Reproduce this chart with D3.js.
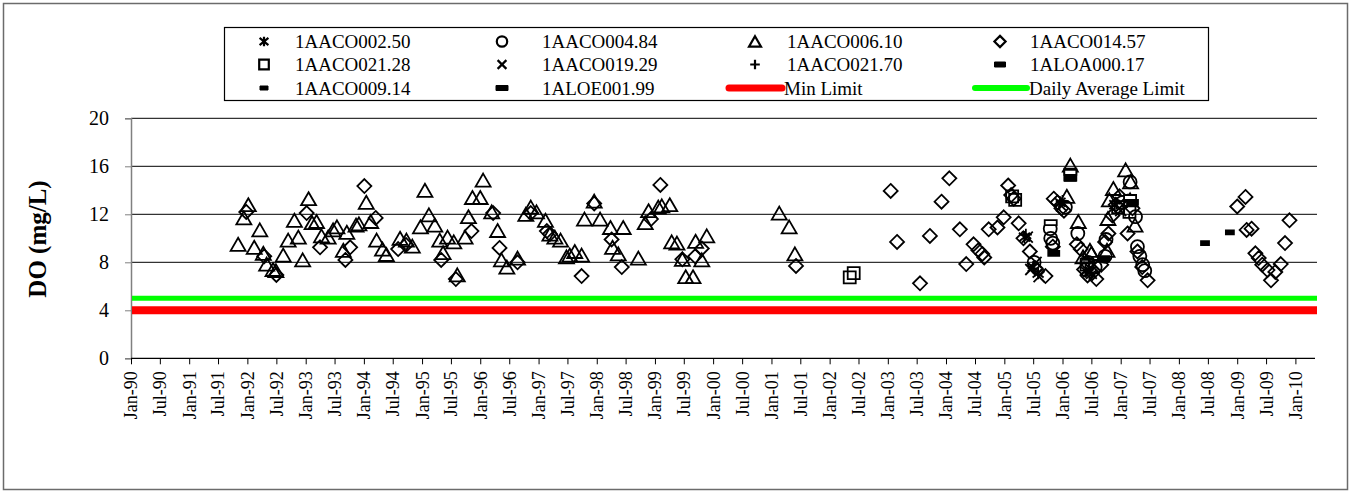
<!DOCTYPE html>
<html><head><meta charset="utf-8">
<script src="https://cdn.jsdelivr.net/npm/d3@7"></script>
<style>
html,body{margin:0;padding:0;background:#fff;}
svg{display:block;font-family:"Liberation Serif","Times New Roman",serif;}
</style></head>
<body>
<svg id="chart" width="1351" height="492"></svg>
<script>
// ---------- DATA ----------
const yTicks = [0, 4, 8, 12, 16, 20];
const minLimit = 4;
const dailyAvgLimit = 5;

const AACO002_50 = [["2005-05-07",10.1],["2005-07-01",7.6],["2005-08-01",7.1],["2005-12-16",13.0],["2006-05-25",7.3],["2006-07-01",7.0],["2006-11-25",12.8],["2007-02-16",13.2]];
const AACO004_84 = [["2005-07-07",8.0],["2005-10-16",10.8],["2005-10-19",10.0],["2005-11-01",9.6],["2006-01-19",12.6],["2006-04-07",10.4],["2006-06-10",8.0],["2006-07-25",7.6],["2006-09-25",8.5],["2006-10-01",9.9],["2007-01-13",13.0],["2007-03-01",14.7],["2007-04-04",11.8],["2007-04-16",9.3],["2007-05-01",8.5],["2007-05-19",7.8],["2007-06-01",7.3]];
const AACO006_10 = [["1991-11-04",9.5],["1991-12-10",11.7],["1992-01-07",12.8],["1992-02-13",9.25],["1992-03-19",10.7],["1992-04-10",8.75],["1992-05-01",7.85],["1992-06-10",7.4],["1992-06-28",7.3],["1992-08-13",8.6],["1992-09-13",9.85],["1992-10-22",11.5],["1992-11-16",10.1],["1992-12-13",8.2],["1993-01-19",13.3],["1993-02-10",11.3],["1993-03-10",11.4],["1993-04-10",10.2],["1993-05-22",10.1],["1993-06-22",10.7],["1993-07-16",10.95],["1993-08-25",9.0],["1993-09-16",10.5],["1993-11-13",11.1],["1993-12-01",11.2],["1994-01-16",13.0],["1994-02-13",11.4],["1994-03-22",9.85],["1994-04-28",9.1],["1994-05-22",8.65],["1994-08-16",10.0],["1994-09-25",9.85],["1994-11-01",9.35],["1994-12-22",10.95],["1995-01-19",14.0],["1995-02-13",11.95],["1995-03-22",11.1],["1995-04-22",9.85],["1995-05-13",8.8],["1995-06-10",10.1],["1995-07-19",9.7],["1995-08-10",6.95],["1995-09-28",10.1],["1995-10-19",11.8],["1995-11-13",13.4],["1996-01-01",13.4],["1996-01-19",14.85],["1996-03-13",12.2],["1996-04-19",10.65],["1996-05-13",8.2],["1996-06-16",7.6],["1996-08-22",8.35],["1996-10-13",12.0],["1996-11-13",12.6],["1996-12-19",12.2],["1997-02-13",11.5],["1997-03-13",10.35],["1997-04-13",10.1],["1997-05-19",9.85],["1997-06-25",8.45],["1997-07-16",8.6],["1997-08-16",8.9],["1997-09-28",8.6],["1997-10-16",11.6],["1997-12-16",13.1],["1998-01-22",11.6],["1998-03-28",10.9],["1998-04-10",9.25],["1998-05-16",8.7],["1998-06-16",10.9],["1998-09-19",8.35],["1998-11-01",11.3],["1998-11-22",12.3],["1999-01-22",12.6],["1999-02-13",12.7],["1999-04-04",12.8],["1999-04-16",9.7],["1999-05-19",9.6],["1999-06-22",8.25],["1999-07-13",6.8],["1999-08-28",6.8],["1999-09-13",9.75],["1999-10-22",8.2],["1999-11-22",10.2],["2001-02-19",12.1],["2001-04-22",10.95],["2001-05-28",8.7],["2006-01-28",13.5],["2006-02-19",16.1],["2006-04-10",11.4],["2006-05-10",8.45],["2006-06-22",9.0],["2006-07-01",8.75],["2006-10-13",11.65],["2006-10-22",13.2],["2006-11-16",14.15],["2007-02-01",15.7],["2007-03-04",14.7],["2007-03-01",13.2],["2007-04-01",11.1],["2006-10-07",9.0]];
const AACO014_57 = [["1991-12-25",12.2],["1992-04-16",8.5],["1992-07-01",6.95],["1993-01-07",12.1],["1993-04-01",9.25],["1993-09-07",8.2],["1993-10-07",9.25],["1994-01-04",14.35],["1994-03-16",11.7],["1994-08-04",9.1],["1994-09-22",9.45],["1995-05-01",8.2],["1995-08-01",6.6],["1995-11-07",10.6],["1996-03-22",12.1],["1996-05-01",9.2],["1996-08-22",8.0],["1996-11-13",12.1],["1997-02-22",10.6],["1997-03-13",10.35],["1997-09-28",6.85],["1997-12-16",12.9],["1998-04-04",9.9],["1998-06-07",7.6],["1998-12-07",11.6],["1999-02-04",14.45],["1999-06-22",8.25],["1999-09-10",8.5],["1999-10-22",9.15],["2001-06-04",7.7],["2003-01-19",13.95],["2003-02-28",9.7],["2003-07-22",6.25],["2003-09-22",10.2],["2003-12-04",13.05],["2004-01-22",15.0],["2004-03-28",10.75],["2004-05-07",7.85],["2004-06-22",9.5],["2004-07-22",9.0],["2004-08-16",8.7],["2004-08-28",8.4],["2004-09-25",10.75],["2004-11-19",10.9],["2004-12-28",11.75],["2005-01-25",14.4],["2005-02-13",13.6],["2005-03-01",13.3],["2005-04-01",11.25],["2005-05-01",10.0],["2005-06-10",8.9],["2005-07-16",7.5],["2005-09-16",6.85],["2005-11-01",9.3],["2005-11-07",13.3],["2005-12-01",13.0],["2005-12-25",12.5],["2006-01-10",12.3],["2006-04-01",9.5],["2006-04-25",9.1],["2006-05-16",7.4],["2006-06-07",6.9],["2006-07-07",7.1],["2006-08-01",6.6],["2006-09-01",7.8],["2006-09-25",9.7],["2006-10-16",10.4],["2006-11-10",11.9],["2006-12-01",12.8],["2006-12-25",13.5],["2007-02-13",10.4],["2007-03-16",12.5],["2007-04-16",8.9],["2007-05-16",7.6],["2007-06-19",6.5],["2009-01-01",12.65],["2009-02-22",13.45],["2009-03-01",10.7],["2009-04-01",10.8],["2009-04-25",8.75],["2009-05-16",8.35],["2009-06-07",7.8],["2009-07-10",7.35],["2009-08-01",6.5],["2009-08-28",7.2],["2009-10-01",7.85],["2009-10-28",9.6],["2009-11-25",11.5]];
const AACO021_28 = [["2002-05-07",6.75],["2002-06-01",7.1],["2005-02-19",13.5],["2005-03-10",13.2],["2006-02-19",15.3],["2006-06-01",7.8],["2006-12-16",12.6],["2007-02-25",12.2]];
const AACO019_29 = [["2005-05-25",10.1],["2005-06-16",7.4],["2005-07-19",8.0],["2005-08-07",6.8],["2005-12-25",12.7],["2006-06-25",7.2],["2006-07-16",7.8],["2007-01-01",12.3]];
const AACO021_70 = [["2005-05-16",10.3],["2006-01-01",13.1],["2006-06-16",8.0],["2006-12-07",12.9]];
const ALOA000_17 = [["2005-11-07",8.75],["2006-02-19",15.0],["2006-09-16",8.3],["2007-03-16",13.0]];
const AACO009_14 = [["2008-06-13",9.6],["2008-11-16",10.5]];
const ALOE001_99 = [["2005-10-19",11.3],["2006-02-19",15.5],["2007-03-01",13.4]];

const seriesNames = ["1AACO002.50","1AACO004.84","1AACO006.10","1AACO014.57","1AACO021.28","1AACO019.29","1AACO021.70","1ALOA000.17","1AACO009.14","1ALOE001.99"];
const seriesData = [AACO002_50, AACO004_84, AACO006_10, AACO014_57, AACO021_28, AACO019_29, AACO021_70, ALOA000_17, AACO009_14, ALOE001_99];
const seriesShapes = ["asterisk","circle","triangle","diamond","square","cross","plus","dashThick","dashSmall","dashHollow"];

// ---------- LAYOUT ----------
const svg = d3.select("#chart");
const plot = {left: 131, right: 1315, top: 118.3, bottom: 358.3};
const parse = d3.timeParse("%Y-%m-%d");
const x = d3.scaleTime().domain([parse("1990-01-01"), parse("2010-05-04")]).range([plot.left, plot.right]);
const y = d3.scaleLinear().domain([0, 20]).range([plot.bottom, plot.top]);

// outer frame
svg.append("rect").attr("x", 3.5).attr("y", 3.5).attr("width", 1344).attr("height", 486)
  .attr("fill", "none").attr("stroke", "#6b6b6b").attr("stroke-width", 1.5);

// gridlines
svg.append("g").selectAll("line").data(yTicks.filter(d => d > 0)).join("line")
  .attr("x1", plot.left).attr("x2", plot.right + 2)
  .attr("y1", d => y(d)).attr("y2", d => y(d))
  .attr("stroke", "#000").attr("stroke-width", 1);

// y axis
const yAxis = svg.append("g").attr("transform", `translate(${plot.left},0)`)
  .call(d3.axisLeft(y).tickValues(yTicks).tickSize(6).tickPadding(16).tickFormat(d3.format("d")));
yAxis.select(".domain").attr("stroke", "#808080").attr("stroke-width", 1.5);
yAxis.selectAll(".tick line").attr("stroke", "#808080");
yAxis.selectAll("text").attr("font-size", 20).attr("font-family", "Liberation Serif").attr("fill", "#000");

// x axis
const xTicks = d3.timeMonth.every(6).range(parse("1990-01-01"), parse("2010-02-01"));
const xAxis = svg.append("g").attr("transform", `translate(0,${plot.bottom})`)
  .call(d3.axisBottom(x).tickValues(xTicks).tickSize(6).tickFormat(d3.timeFormat("%b-%y")));
xAxis.select(".domain").attr("stroke", "#000").attr("stroke-width", 1.2).attr("d", `M${plot.left},0H${plot.right}`);
xAxis.selectAll(".tick line").attr("stroke", "#000");
xAxis.selectAll("text")
  .attr("font-size", 18).attr("font-family", "Liberation Serif").attr("fill", "#000")
  .attr("text-anchor", "end").attr("transform", "rotate(-90)")
  .attr("x", -13).attr("y", 0).attr("dy", "0.33em");

// y title
svg.append("text").attr("transform", "translate(46,239) rotate(-90)")
  .attr("text-anchor", "middle").attr("font-size", 25).attr("font-weight", "bold")
  .text("DO (mg/L)");

// limit lines
svg.append("line").attr("x1", plot.left + 1).attr("x2", plot.right + 2)
  .attr("y1", y(minLimit)).attr("y2", y(minLimit))
  .attr("stroke", "#ff0000").attr("stroke-width", 8);
svg.append("line").attr("x1", plot.left + 1).attr("x2", plot.right + 2)
  .attr("y1", y(dailyAvgLimit)).attr("y2", y(dailyAvgLimit))
  .attr("stroke", "#00ff00").attr("stroke-width", 5);

// marker shapes
function shapePath(shape, k) {
  switch (shape) {
    case "asterisk": { const s = 5.5*k; return `M${-s},${-s*0.8}L${s},${s*0.8}M${-s},${s*0.8}L${s},${-s*0.8}M0,${-s*1.1}L0,${s*1.1}`; }
    case "circle": { const r = 6.5*k; return `M${r},0A${r},${r} 0 1,1 ${-r},0A${r},${r} 0 1,1 ${r},0Z`; }
    case "triangle": { const w = 7.5*k, h = 6.5*k; return `M0,${-h}L${w},${h}L${-w},${h}Z`; }
    case "diamond": { const s = 7*k; return `M0,${-s}L${s},0L0,${s}L${-s},0Z`; }
    case "square": { const s = 6*k; return `M${-s},${-s}H${s}V${s}H${-s}Z`; }
    case "cross": { const s = 5.5*k; return `M${-s},${-s}L${s},${s}M${-s},${s}L${s},${-s}`; }
    case "plus": { const s = 6*k; return `M${-s},0H${s}M0,${-s}V${s}`; }
    case "dashThick": { const w = 5.5*k, h = 2.5*k; return `M${-w},${-h}H${w}V${h}H${-w}Z`; }
    case "dashSmall": { const w = 4*k, h = 2*k; return `M${-w},${-h}H${w}V${h}H${-w}Z`; }
    case "dashHollow": { const w = 6*k, h = 2.5*k; return `M${-w},${-h}H${w}V${h}H${-w}Z`; }
  }
}
function shapeFill(shape) {
  if (shape === "dashHollow") return "#fff";
  return (shape === "dashThick" || shape === "dashSmall") ? "#000" : "none";
}

// points
const pts = svg.append("g");
seriesData.forEach((data, i) => {
  const shape = seriesShapes[i];
  pts.append("g").selectAll("path").data(data).join("path")
    .attr("transform", d => `translate(${x(parse(d[0]))},${y(d[1])})`)
    .attr("d", shapePath(shape, 1))
    .attr("fill", shapeFill(shape))
    .attr("stroke", "#000").attr("stroke-width", 1.8).attr("stroke-linejoin", "miter");
});

// legend
const lg = svg.append("g");
lg.append("rect").attr("x", 224.5).attr("y", 27.5).attr("width", 984).attr("height", 73)
  .attr("fill", "#fff").attr("stroke", "#000").attr("stroke-width", 1.2);
const colSym = [264, 502, 755, 1000];
const colTxt = [295, 542, 787, 1030];
const rowY = [41.5, 64.5, 88];
const legendItems = seriesNames.map((n, i) => ({name: n, shape: seriesShapes[i]}));
legendItems.forEach((it, i) => {
  const c = i % 4, r = Math.floor(i / 4);
  const isDash = it.shape.startsWith("dash");
  lg.append("path").attr("transform", `translate(${colSym[c]},${rowY[r]})`)
    .attr("d", shapePath(it.shape, isDash ? 1 : 0.8))
    .attr("fill", it.shape === "dashHollow" ? "#000" : shapeFill(it.shape))
    .attr("stroke", "#000").attr("stroke-width", isDash ? 1 : 2.2);
  lg.append("text").attr("x", colTxt[c]).attr("y", rowY[r]).attr("dy", "0.35em")
    .attr("font-size", 19).text(it.name);
});
// limit legend entries
[{label: "Min Limit", color: "#ff0000", x1: 729, x2: 782, w: 7, tx: 784},
 {label: "Daily Average Limit", color: "#00ff00", x1: 975, x2: 1027, w: 6, tx: 1029}].forEach(d => {
  lg.append("line").attr("x1", d.x1).attr("x2", d.x2).attr("y1", rowY[2]).attr("y2", rowY[2])
    .attr("stroke", d.color).attr("stroke-width", d.w).attr("stroke-linecap", "round");
  lg.append("text").attr("x", d.tx).attr("y", rowY[2]).attr("dy", "0.35em")
    .attr("font-size", 19).text(d.label);
});
</script>
</body></html>
